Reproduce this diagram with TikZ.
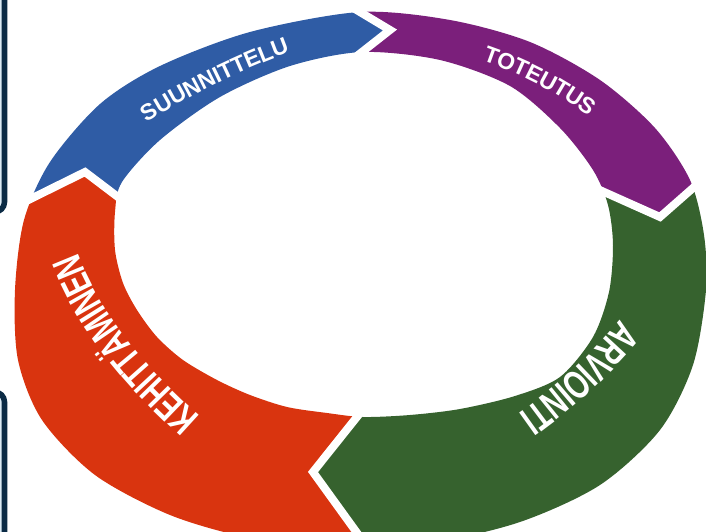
\documentclass[tikz,border=0pt]{standalone}
\usepackage{fontspec}
\newfontfamily\phasefont{Liberation Sans}
\newfontfamily\phasenarrow[FakeStretch=0.7]{Liberation Sans}
\usetikzlibrary{decorations.text}

\definecolor{planblue}{RGB}{47,92,165}
\definecolor{dopurple}{RGB}{123,31,123}
\definecolor{checkgreen}{RGB}{54,98,46}
\definecolor{actred}{RGB}{217,52,15}
\definecolor{framenavy}{RGB}{11,43,69}
\definecolor{framefill}{RGB}{220,235,245}

\newcommand{\ringouter}{plot[smooth cycle] coordinates {(360,-12) (450,-20) (530,-42) (600,-80) (655,-128) (690,-180) (704,-235) (706,-290) (693,-365) (660,-430) (600,-485) (520,-522) (430,-543) (340,-548) (250,-538) (170,-515) (95,-475) (42,-420) (18,-360) (15,-290) (24,-220) (50,-162) (100,-104) (160,-66) (250,-32)}}
\newcommand{\ringinner}{plot[smooth cycle] coordinates {(362,-52) (440,-60) (510,-86) (560,-128) (593,-170) (608,-205) (613,-245) (609,-292) (593,-337) (560,-377) (515,-396) (460,-409) (410,-415) (363,-417) (327,-413) (287,-407) (250,-395) (217,-380) (183,-360) (157,-337) (137,-310) (123,-283) (115,-250) (115,-212) (122,-182) (160,-140) (220,-97) (290,-66)}}
\newcommand{\smalltext}{\phasefont\bfseries\fontsize{13}{13}\selectfont\color{white}}
\newcommand{\bigtext}{\phasenarrow\bfseries\fontsize{23}{23}\selectfont\color{white}}

\begin{document}
\begin{tikzpicture}[x=0.2mm, y=0.2mm,
    gap/.style={white, line width=1.6mm},
    frame/.style={draw=framenavy, fill=framefill, line width=1.1mm, rounded corners=2mm},
    phase/.style={decorate, decoration={text along path, text align=center, raise=#1}}]
\clip (0,0) rectangle (706,-532);
% points of the arrow joints
\coordinate (c) at (365,-240);
\coordinate (o1) at (330,6);    \coordinate (t1) at (390,-30);  \coordinate (i1) at (334,-74);
\coordinate (o2) at (726,-159); \coordinate (t2) at (660,-217); \coordinate (i2) at (575,-179);
\coordinate (o3) at (373,-555); \coordinate (t3) at (313,-472); \coordinate (i3) at (388,-378);
\coordinate (o4) at (0,-214);   \coordinate (t4) at (85,-172);  \coordinate (i4) at (151,-222);

% four parts of the ring
\begin{scope}
  \clip (o4) -- (t4) -- (i4) -- (c) -- (i1) -- (t1) -- (o1) -- (-20,20) -- (-20,-214) -- cycle;
  \fill[planblue, even odd rule] \ringouter \ringinner;
\end{scope}
\begin{scope}
  \clip (o1) -- (t1) -- (i1) -- (c) -- (i2) -- (t2) -- (o2) -- (730,20) -- (330,20) -- cycle;
  \fill[dopurple, even odd rule] \ringouter \ringinner;
\end{scope}
\begin{scope}
  \clip (o2) -- (t2) -- (i2) -- (c) -- (i3) -- (t3) -- (o3) -- (730,-555) -- cycle;
  \fill[checkgreen, even odd rule] \ringouter \ringinner;
\end{scope}
\begin{scope}
  \clip (o3) -- (t3) -- (i3) -- (c) -- (i4) -- (t4) -- (o4) -- (-20,-214) -- (-20,-555) -- cycle;
  \fill[actred, even odd rule] \ringouter \ringinner;
\end{scope}
\draw[gap] (o1) -- (t1) -- (i1);
\draw[gap] (o2) -- (t2) -- (i2);
\draw[gap] (o3) -- (t3) -- (i3);
\draw[gap] (o4) -- (t4) -- (i4);

% labels
\path[phase=-4.7pt, decoration={text={|\smalltext|SUUNNITTELU}}]
  (105,-140) .. controls (174,-91.3) and (249,-54.7) .. (330,-30);
\path[phase=-4.7pt, decoration={text={|\smalltext|TOTEUTUS}}]
  (440,-40) .. controls (514,-57.3) and (577.3,-90.7) .. (630,-140);
\path[phase=-8.2pt, decoration={text={|\bigtext|ARVIOINTI}}]
  (665,-285) .. controls (613.3,-359) and (551.7,-415.7) .. (480,-455);
\path[phase=-8.2pt, decoration={text={|\bigtext|KEHITTÄMINEN}}]
  (215,-448) .. controls (125.7,-374.7) and (72.3,-301.3) .. (55,-228);

% boxes at the left edge
\draw[frame] (-60,10) rectangle (4.5,-212);
\draw[frame] (-60,-392) rectangle (4.5,-560);
\end{tikzpicture}
\end{document}
